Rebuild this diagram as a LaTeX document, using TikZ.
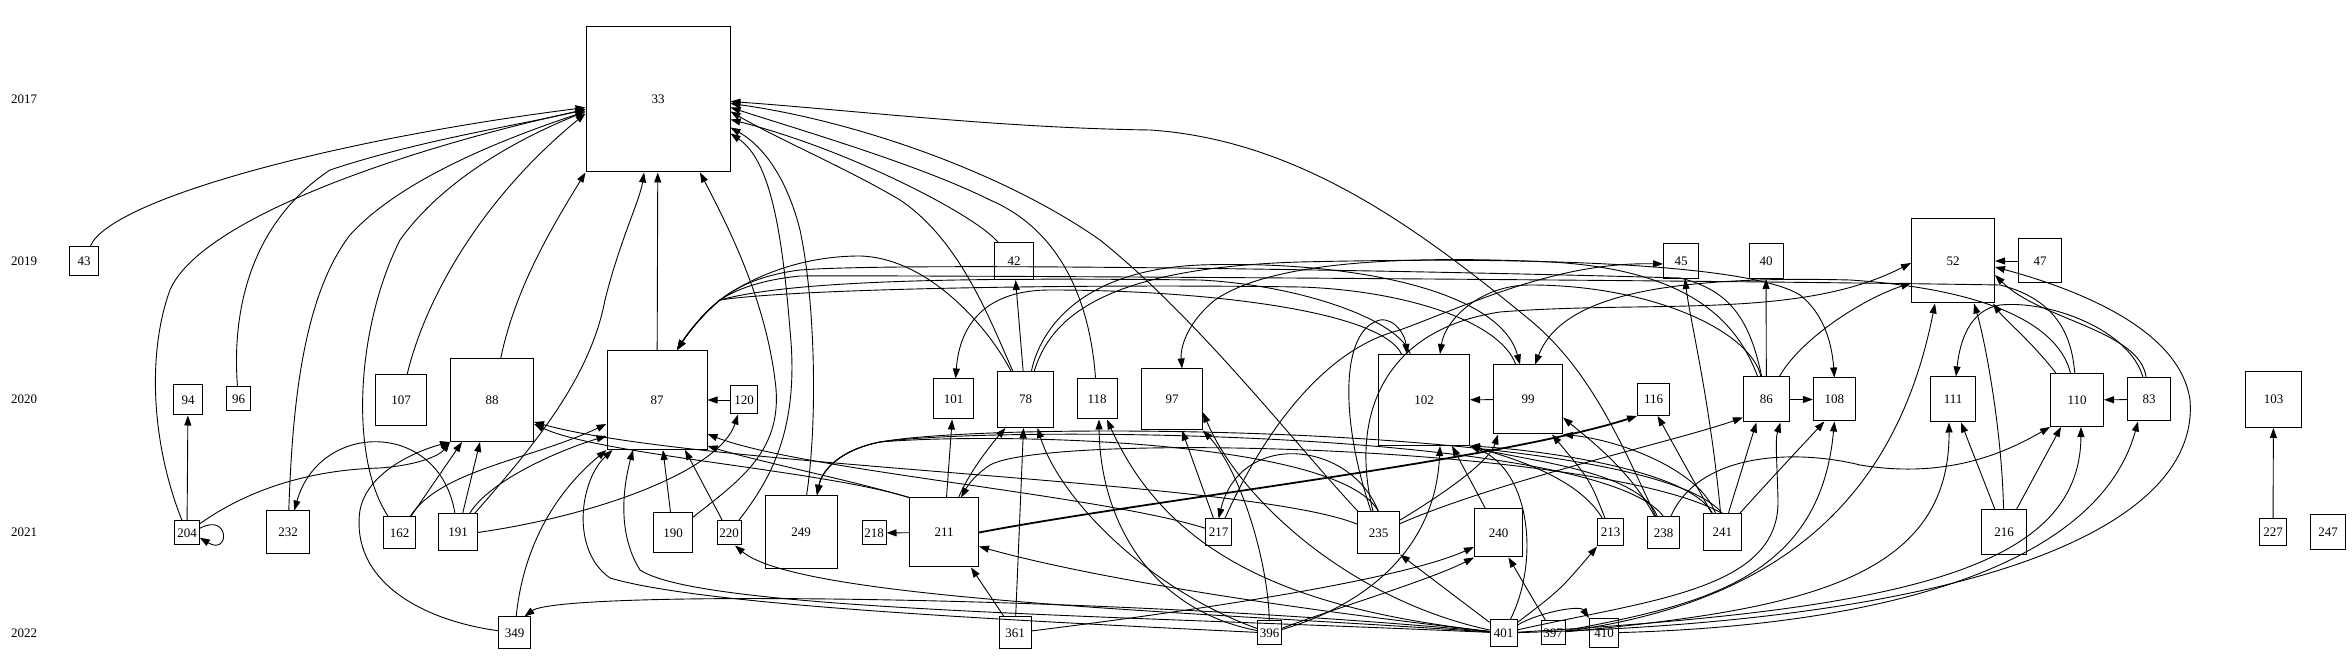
\documentclass[tikz,border=0pt]{standalone}
\usepackage{fontspec}
\setmainfont{Liberation Serif}
\usetikzlibrary{arrows.meta}
\tikzset{
  box/.style={draw, line width=0.5pt, inner sep=0pt, font=\fontsize{6.5}{7}\selectfont},
  yr/.style={inner sep=0pt, font=\fontsize{6.5}{7}\selectfont},
  e/.style={draw, line width=0.45pt, -{Triangle[length=5pt,width=3.5pt]}},
  fat/.style={line width=0.9pt}
}
\begin{document}
\begin{tikzpicture}[x=0.5pt,y=-0.5pt]
\useasboundingbox (0,0) rectangle (2352,656);
% year labels
\node[yr] (y2017) at (24,99) {2017};
\node[yr] (y2019) at (24,261) {2019};
\node[yr] (y2020) at (24,399) {2020};
\node[yr] (y2021) at (24,532) {2021};
\node[yr] (y2022) at (24,633) {2022};
% 2017
\node[box,minimum width=72pt,minimum height=72.5pt] (n33) at (658,99.5) {33};
% 2019
\node[box,minimum size=14.5pt] (n43) at (84,261) {43};
\node[box,minimum width=19.5pt,minimum height=18.5pt] (n42) at (1014,261) {42};
\node[box,minimum size=17.5pt] (n45) at (1681,261) {45};
\node[box,minimum width=17pt,minimum height=17.5pt] (n40) at (1766,261) {40};
\node[box,minimum width=41.5pt,minimum height=42pt] (n52) at (1953,261) {52};
\node[box,minimum width=21.5pt,minimum height=22pt] (n47) at (2040,261) {47};
% 2020
\node[box,minimum width=14.5pt,minimum height=15pt] (n94) at (188,400) {94};
\node[box,minimum size=12pt] (n96) at (238.5,399) {96};
\node[box,minimum size=25.5pt] (n107) at (401,400) {107};
\node[box,minimum size=41.5pt] (n88) at (492,400) {88};
\node[box,minimum width=50pt,minimum height=49.5pt] (n87) at (657,400) {87};
\node[box,minimum width=13.5pt,minimum height=14pt] (n120) at (744,400) {120};
\node[box,minimum size=20pt] (n101) at (953.6,399) {101};
\node[box,minimum size=28pt] (n78) at (1025.5,399.5) {78};
\node[box,minimum size=20pt] (n118) at (1097,399) {118};
\node[box,minimum size=30.5pt] (n97) at (1172,399.5) {97};
\node[box,minimum size=45.5pt] (n102) at (1424,400) {102};
\node[box,minimum size=34.5pt] (n99) at (1528,399.5) {99};
\node[box,minimum size=16pt] (n116) at (1653.6,399.5) {116};
\node[box,minimum width=23pt,minimum height=22.5pt] (n86) at (1766.4,399.5) {86};
\node[box,minimum width=21pt,minimum height=21.5pt] (n108) at (1834.4,399.5) {108};
\node[box,minimum size=22.5pt] (n111) at (1953,399.5) {111};
\node[box,minimum size=26.5pt] (n110) at (2077,400) {110};
\node[box,minimum size=21.5pt] (n83) at (2149,399.5) {83};
\node[box,minimum size=28pt] (n103) at (2273.5,399.5) {103};
% 2021
\node[box,minimum width=12.25pt,minimum height=12pt] (n204) at (187,533) {204};
\node[box,minimum width=21.75pt,minimum height=21.5pt] (n232) at (288,532.5) {232};
\node[box,minimum size=16pt] (n162) at (399.5,533) {162};
\node[box,minimum width=19.25pt,minimum height=18.5pt] (n191) at (458,532.5) {191};
\node[box,minimum width=19.5pt,minimum height=20pt] (n190) at (673,533) {190};
\node[box,minimum size=12pt] (n220) at (729,533) {220};
\node[box,minimum width=36pt,minimum height=36.5pt] (n249) at (801,532) {249};
\node[box,minimum size=12pt] (n218) at (874,533) {218};
\node[box,minimum size=34.5pt] (n211) at (944,532.5) {211};
\node[box,minimum width=13pt,minimum height=13.5pt] (n217) at (1218.6,532.5) {217};
\node[box,minimum size=21pt] (n235) at (1378.5,533) {235};
\node[box,minimum size=24pt] (n240) at (1498.5,533) {240};
\node[box,minimum width=13pt,minimum height=13.5pt] (n213) at (1610.6,532.5) {213};
\node[box,minimum size=16pt] (n238) at (1663.5,533) {238};
\node[box,minimum width=19pt,minimum height=18.5pt] (n241) at (1722.4,532.5) {241};
\node[box,minimum size=22.5pt] (n216) at (2004,532.5) {216};
\node[box,minimum size=13.5pt] (n227) at (2273,532.5) {227};
\node[box,minimum size=17.5pt] (n247) at (2328,532.5) {247};
% 2022
\node[box,minimum size=16pt] (n349) at (514.5,633) {349};
\node[box,minimum size=16pt] (n361) at (1015,633) {361};
\node[box,minimum size=12pt] (n396) at (1269.6,633) {396};
\node[box,minimum size=13.5pt] (n401) at (1503.6,633) {401};
\node[box,minimum size=12pt] (n397) at (1553,633) {397};
\node[box,minimum size=14.5pt] (n410) at (1604,633) {410};

% ---- into 33
\draw[e] (n43) .. controls (110,200) and (330,140) .. ([yshift=-4pt]n33.west);
\draw[e] (n204) .. controls (150,440) and (148,350) .. (170,290) .. controls (200,220) and (400,150) .. ([yshift=-5pt]n33.west);
\draw[e] (n96) .. controls (233,330) and (240,230) .. (330,170) .. controls (420,140) and (520,125) .. ([yshift=-5pt]n33.west);
\draw[e] (n232) .. controls (292,420) and (300,300) .. (350,235) .. controls (400,180) and (500,140) .. ([yshift=-6pt]n33.west);
\draw[e] (n162) .. controls (350,460) and (355,330) .. (400,240) .. controls (450,170) and (540,130) .. ([yshift=-6pt]n33.west);
\draw[e] (n107) .. controls (425,300) and (480,200) .. ([yshift=-7pt]n33.west);
\draw[e] (n88) .. controls (515,290) and (550,230) .. (n33.south west);
\draw[e] (n191) .. controls (530,450) and (590,380) .. (605,300) .. controls (620,240) and (640,200) .. ([xshift=-7pt]n33.south);
\draw[e] (n87) -- (n33);
\draw[e] (n190) .. controls (740,480) and (785,450) .. (775,380) .. controls (765,300) and (730,230) .. ([xshift=21pt]n33.south);
\draw[e] (n220) .. controls (770,480) and (800,430) .. (790,330) .. controls (782,230) and (770,160) .. ([yshift=-17pt]n33.east);
\draw[e] (n249) .. controls (818,420) and (815,300) .. (800,230) .. controls (790,190) and (770,150) .. ([yshift=-14pt]n33.east);
\draw[e] (n42) .. controls (975,215) and (850,150) .. ([yshift=-10pt]n33.east);
\draw[e] (n78) .. controls (990,320) and (960,240) .. (900,200) .. controls (850,170) and (780,140) .. ([yshift=-6pt]n33.east);
\draw[e] (n118) .. controls (1090,300) and (1060,230) .. (990,200) .. controls (920,165) and (800,130) .. ([yshift=-4pt]n33.east);
\draw[e] (n235) .. controls (1300,450) and (1200,320) .. (1100,240) .. controls (1000,170) and (850,120) .. ([yshift=-2pt]n33.east);
\draw[e] (n238) .. controls (1620,440) and (1590,370) .. (1530,320) .. controls (1420,230) and (1300,140) .. (1150,130) .. controls (1000,128) and (850,110) .. ([yshift=-1pt]n33.east);

% ---- left part
\draw[e] (n204) -- (n94);
\draw[e] (n204.20) .. controls (230,512) and (230,556) .. (n204.-20);
\draw[e] (n204) .. controls (240,495) and (300,470) .. (380,468) .. controls (420,465) and (440,455) .. (n88.south west);
\draw[e] (n191) .. controls (440,420) and (320,420) .. (n232);
\draw[e] (n162) -- ([xshift=-15pt]n88.south);
\draw[e] (n191) -- ([xshift=-6pt]n88.south);
\draw[e] (n349) .. controls (420,620) and (350,580) .. (360,510) .. controls (368,470) and (420,450) .. (n88.south west);
\draw[e] (n162) .. controls (440,470) and (530,460) .. ([yshift=-12pt]n87.west);
\draw[e] (n191) .. controls (490,480) and (560,450) .. ([yshift=-18pt]n87.west);
\draw[e] (n191.east) .. controls (600,515) and (720,470) .. ([xshift=-3pt]n120.south);
\draw[e] (n120) -- (n87);
\draw[e] (n190) -- ([xshift=3pt]n87.south);
\draw[e] (n220) -- ([xshift=14pt]n87.south);
\draw[e] (n349) .. controls (525,530) and (570,480) .. (n87.south west);
\draw[e] (n401) .. controls (1100,615) and (700,610) .. (640,570) .. controls (615,530) and (625,480) .. ([xshift=-12pt]n87.south);
\draw[e] (n396) .. controls (1000,620) and (700,605) .. (610,578) .. controls (570,550) and (580,480) .. ([xshift=3pt]n87.south west);
\draw[e] (n211.north west) .. controls (820,470) and (600,455) .. ([yshift=-12pt]n88.east);
\draw[e] (n235) .. controls (1250,480) and (700,468) .. ([yshift=-11pt]n88.east);
\draw[e] (n211.north west) .. controls (850,480) and (760,462) .. ([yshift=-23pt]n87.east);
\draw[e] (n217) .. controls (1100,495) and (800,470) .. ([yshift=-17pt]n87.east);

% ---- middle
\draw[e] (n211) -- (n218);
\draw[e] (n211) -- (n101);
\draw[e] (n211) .. controls (970,470) and (995,440) .. ([xshift=-10pt]n78.south);
\draw[e] (n361) -- ([xshift=-1pt]n78.south);
\draw[e] (n361) -- ([xshift=-4pt]n211.south east);
\draw[e] (n401) .. controls (1300,610) and (1100,580) .. ([yshift=-7pt]n211.east);
\draw[e] (n401) .. controls (1200,612) and (800,600) .. ([xshift=3pt]n220.south);
\draw[e] (n401) .. controls (1100,595) and (560,590) .. ([xshift=5pt]n349.north);
\draw[e] (n396) .. controls (1150,590) and (1060,500) .. ([xshift=6pt]n78.south);
\draw[e] (n396) .. controls (1150,610) and (1100,520) .. ([xshift=1pt]n118.south);
\draw[e] (n401) .. controls (1300,610) and (1170,560) .. ([xshift=5pt]n118.south);
\draw[e] (n396) .. controls (1268,560) and (1240,470) .. (n97.south east);
\draw[e] (n401) .. controls (1350,600) and (1240,500) .. ([yshift=-6.5pt]n97.east);
\draw[e] (n217) -- ([xshift=5pt]n97.south);
\draw[e] (n235.north) .. controls (1350,440) and (1240,430) .. (n217.north);
\draw[e] (n235) .. controls (1340,420) and (1340,330) .. (1380,320) .. controls (1395,318) and (1405,335) .. ([xshift=-8.5pt]n102.north);
\draw[e] (n99) -- (n102);
\draw[e] (n240) -- ([xshift=14pt]n102.south);
\draw[e] (n396) .. controls (1350,610) and (1435,560) .. ([xshift=8pt]n102.south);
\draw[e] (n213) .. controls (1590,480) .. ([xshift=12pt]n99.south);
\draw[e] (n235) .. controls (1450,490) and (1490,460) .. ([xshift=-15pt]n99.south);
\draw[e] (n238) .. controls (1630,470) and (1590,440) .. ([yshift=-9pt]n99.east);
\draw[e] (n241) .. controls (1700,470) and (1620,440) .. (n99.south east);
\draw[e] (n238) .. controls (1640,470) and (1520,460) .. (n102.south east);
\draw[e] (n241) .. controls (1690,470) and (1540,450) .. (n102.south east);
\draw[e] (n401) .. controls (1540,560) and (1530,470) .. (n102.south east);
\draw[e] (n213) .. controls (1580,480) and (1520,460) .. (n102.south east);
\draw[e] (n361) .. controls (1200,610) and (1400,580) .. ([yshift=-7pt]n240.west);
\draw[e] (n396) .. controls (1330,610) and (1430,580) .. (n240.south west);
\draw[e] (n397) -- ([xshift=5pt]n240.south);
\draw[e] (n401) -- (n235.south east);
\draw[e] (n401) .. controls (1560,590) .. (n213.south west);
\draw[e] (n401) .. controls (1540,612) and (1580,605) .. (n410.north west);

% ---- right part
\draw[e] (n241) -- ([xshift=2pt]n116.south);
\draw[e,fat] (n211.east) .. controls (1150,500) and (1500,460) .. (n116.south west);
\draw[e] (n235) .. controls (1500,480) and (1680,440) .. ([yshift=-9pt]n86.west);
\draw[e] (n241) -- ([xshift=-5pt]n86.south);
\draw[e] (n401) .. controls (1650,600) and (1780,590) .. (1778,500) .. controls (1777,460) and (1775,440) .. ([xshift=7pt]n86.south);
\draw[e] (n86) -- (n108);
\draw[e] (n86) -- (n40);
\draw[e] (n241) .. controls (1770,480) .. ([xshift=-5pt]n108.south);
\draw[e] (n397) .. controls (1700,605) and (1820,580) .. (n108.south);
\draw[e] (n216) -- ([xshift=4pt]n111.south);
\draw[e] (n397) .. controls (1800,610) and (1950,580) .. ([xshift=-2pt]n111.south);
\draw[e] (n216) -- ([xshift=-8pt]n110.south);
\draw[e] (n401) .. controls (1900,610) and (2080,570) .. ([xshift=2pt]n110.south);
\draw[e] (n238) .. controls (1700,450) and (1800,450) .. (1860,465) .. controls (1950,480) and (2010,450) .. (n110.south west);
\draw[e] (n83) -- (n110);
\draw[e] (n410) .. controls (1900,625) and (2100,560) .. ([xshift=-5.5pt]n83.south);
\draw[e] (n227) -- (n103);
\draw[e] (n216) .. controls (2002,430) and (1985,340) .. ([xshift=10.5pt]n52.south);
\draw[e] (n110) .. controls (2030,340) and (2005,320) .. ([xshift=20pt]n52.south);
\draw[e] (n83) .. controls (2140,330) and (2040,320) .. ([yshift=-7pt]n52.east);
\draw[e] (n401) .. controls (2000,620) and (2200,520) .. (2190,400) .. controls (2180,330) and (2080,290) .. ([yshift=-3pt]n52.east);
\draw[e] (n397) .. controls (1800,600) and (1900,480) .. ([xshift=-9pt]n52.south);
\draw[e] (n86) .. controls (1800,340) and (1860,300) .. ([yshift=-11pt]n52.west);
\draw[e] (n235) .. controls (1350,420) and (1380,330) .. (1500,312) .. controls (1650,300) and (1800,320) .. ([yshift=-1pt]n52.west);
\draw[e] (n241) .. controls (1710,400) and (1690,320) .. ([xshift=2pt]n45.south);
\draw[e] (n78) -- (n42);
\draw[e] (n47) -- (n52);

% ---- flat edges in 2020
\draw[e] (n78) .. controls (990,330) and (930,258) .. (860,256) .. controls (790,256) and (740,285) .. (720,300) .. controls (705,312) and (690,330) .. ([xshift=10pt]n87.north);
\draw[e] (n86) .. controls (1750,320) and (1730,290) .. (1680,278) .. controls (1400,270) and (900,262) .. (800,270) .. controls (760,275) and (735,288) .. (720,300) .. controls (705,312) and (690,330) .. ([xshift=10pt]n87.north);
\draw[e] (n110) .. controls (2072,340) and (2060,300) .. (2000,285) .. controls (1700,280) and (900,275) .. (800,276) .. controls (760,280) and (735,290) .. (720,300) .. controls (705,312) and (690,330) .. ([xshift=10pt]n87.north);
\draw[e] (n102) .. controls (1400,320) and (1300,285) .. (1200,280) .. controls (1000,278) and (800,278) .. (720,300) .. controls (705,312) and (690,330) .. ([xshift=10pt]n87.north);
\draw[e] (n99) .. controls (1500,320) and (1400,290) .. (1300,287) .. controls (1100,284) and (800,288) .. (720,300) .. controls (705,312) and (690,330) .. ([xshift=10pt]n87.north);
\draw[e] (n102) .. controls (1380,310) and (1200,290) .. (1050,290) .. controls (990,290) and (960,320) .. ([xshift=1pt]n101.north);
\draw[e] (n86) .. controls (1740,330) and (1700,270) .. (1550,262) .. controls (1400,255) and (1270,262) .. (1215,300) .. controls (1190,320) and (1180,345) .. ([xshift=5pt]n97.north);
\draw[e] (n86) .. controls (1750,330) and (1650,285) .. (1530,285) .. controls (1480,285) and (1445,320) .. ([xshift=8pt]n102.north);
\draw[e] (n78) .. controls (1040,330) and (1080,270) .. (1200,265) .. controls (1350,260) and (1500,290) .. ([xshift=-4pt]n99.north);
\draw[e] (n110) .. controls (2060,330) and (2000,290) .. (1850,280) .. controls (1650,275) and (1560,300) .. ([xshift=3.5pt]n99.north);
\draw[e] (n78) .. controls (1050,320) and (1100,268) .. (1300,262) .. controls (1600,255) and (1760,270) .. (1800,295) .. controls (1825,315) and (1832,345) .. (n108.north);
\draw[e] (n83) .. controls (2130,330) and (2050,300) .. (2000,305) .. controls (1970,310) and (1960,340) .. ([xshift=1.5pt]n111.north);
\draw[e] (n217) .. controls (1260,440) and (1320,350) .. (1400,330) .. controls (1480,300) and (1560,262) .. ([yshift=-1.5pt]n45.west);

% ---- flat edges in 2021
\draw[e] (n238.north) .. controls (1600,430) and (1000,425) .. (880,442) .. controls (840,450) and (822,470) .. ([xshift=8pt]n249.north);
\draw[e] (n241.north) .. controls (1650,425) and (1000,420) .. (880,442) .. controls (840,450) and (822,470) .. ([xshift=8pt]n249.north);
\draw[e] (n235.north) .. controls (1340,440) and (1000,432) .. (880,442) .. controls (840,450) and (822,470) .. ([xshift=8pt]n249.north);
\draw[e] (n241.north) .. controls (1600,445) and (1050,432) .. (990,465) .. controls (975,475) and (968,485) .. ([xshift=-9pt]n211.north east);
\end{tikzpicture}
\end{document}
